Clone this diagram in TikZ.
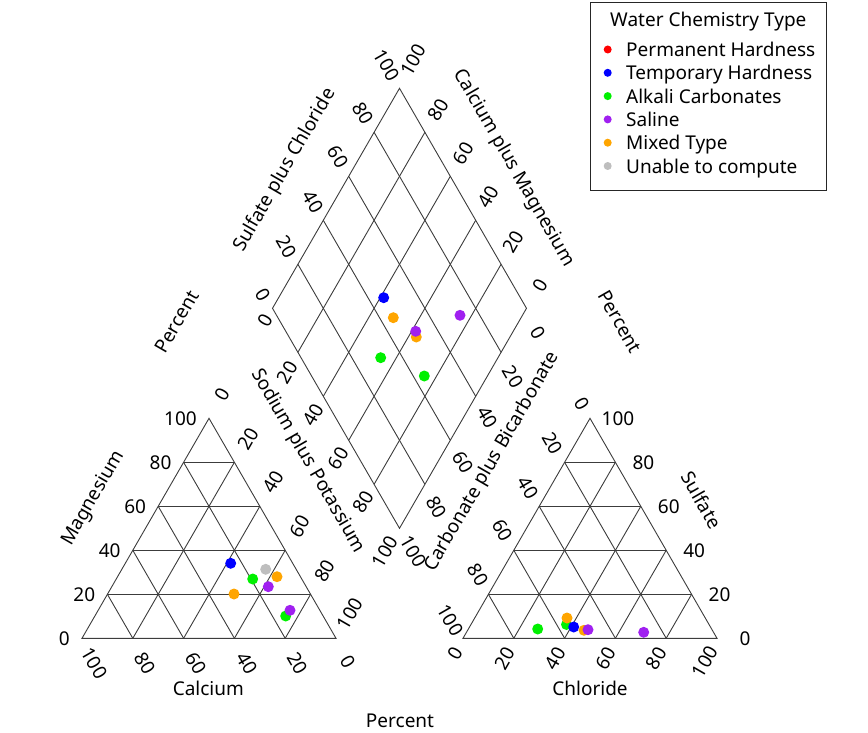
\documentclass[tikz,border=0pt]{standalone}
\usepackage{fontspec}
\setmainfont{Noto Sans}
\usetikzlibrary{calc}
\definecolor{cred}{RGB}{255,0,0}
\definecolor{cblue}{RGB}{0,0,255}
\definecolor{cgreen}{RGB}{0,240,0}
\definecolor{cpurple}{RGB}{160,32,240}
\definecolor{corange}{RGB}{255,165,0}
\definecolor{cgray}{RGB}{190,190,190}
\definecolor{gridc}{RGB}{60,60,60}
\begin{document}
\begin{tikzpicture}[x=1pt,y=-1pt,
  grid/.style={draw=gridc, line width=0.9pt},
  tick/.style={inner sep=0pt, font=\fontsize{19}{22}\selectfont},
  lab/.style={inner sep=0pt, font=\fontsize{19}{22}\selectfont},
  dot/.style={fill=#1}]
\useasboundingbox (0,0) rectangle (868,733);
% vertices
\coordinate (A) at (82,638.3);
\coordinate (B) at (336,638.3);
\coordinate (C) at (209,418.3);
\coordinate (D) at (463,638.3);
\coordinate (E) at (717,638.3);
\coordinate (F) at (590,418.3);
\coordinate (Lc) at (272.5,308.3);
\coordinate (T) at (399.5,88.3);
\coordinate (Rc) at (526.5,308.3);
\coordinate (Bm) at (399.5,528.3);
% triangles
\draw[grid] (A) -- (B) -- (C) -- cycle;
\draw[grid] (D) -- (E) -- (F) -- cycle;
\draw[grid] (Lc) -- (T) -- (Rc) -- (Bm) -- cycle;
\foreach \f in {0.2,0.4,0.6,0.8}{
  \pgfmathsetmacro\g{1-\f}
  \draw[grid] ($(A)!\f!(C)$) -- ($(B)!\f!(C)$);
  \draw[grid] ($(A)!\f!(B)$) -- ($(B)!\g!(C)$);
  \draw[grid] ($(A)!\f!(B)$) -- ($(A)!\f!(C)$);
  \draw[grid] ($(D)!\f!(F)$) -- ($(E)!\f!(F)$);
  \draw[grid] ($(D)!\f!(E)$) -- ($(E)!\g!(F)$);
  \draw[grid] ($(D)!\f!(E)$) -- ($(D)!\f!(F)$);
  \draw[grid] ($(Lc)!\f!(Bm)$) -- ($(T)!\f!(Rc)$);
  \draw[grid] ($(Lc)!\f!(T)$) -- ($(Bm)!\f!(Rc)$);
}
% left triangle ticks
\foreach \t/\x/\y in {0/70/638.3,20/95.4/594.3,40/120.8/550.3,60/146.2/506.3,80/171.6/462.3,100/197/418.3}
  \node[tick,anchor=east] (mg\t) at (\x,\y) {\t};
\foreach \t/\x/\y in {100/94.5/663.3,80/145.3/663.3,60/196.1/663.3,40/246.9/663.3,20/297.7/663.3,0/348.5/662}
  \node[tick,rotate=-60] (ca\t) at (\x,\y) {\t};
\foreach \t/\x/\y in {0/222/394.3,20/248.4/439,40/273.5/482,60/299.6/526.5,80/325/571,100/350/613.8}
  \node[tick,rotate=60] (na\t) at (\x,\y) {\t};
% right triangle ticks
\foreach \t/\x/\y in {0/745/638.3,20/719.6/594.3,40/694.2/550.3,60/668.8/506.3,80/643.4/462.3,100/618/418.3}
  \node[tick] (so\t) at (\x,\y) {\t};
\foreach \t/\x/\y in {0/455.5/653.5,20/505/658.5,40/555.5/658.5,60/606/658.5,80/656.5/658.5,100/705/661.5}
  \node[tick,rotate=60] (cl\t) at (\x,\y) {\t};
\foreach \t/\x/\y in {0/582/404,20/552.5/443.5,40/528/488,60/502.5/530.5,80/478/575,100/450.5/620}
  \node[tick,rotate=-60] (hc\t) at (\x,\y) {\t};
% diamond ticks
\foreach \t/\x/\y in {0/263.3/295,20/286.7/246.7,40/313.3/201.7,60/338.3/156.7,80/363.3/113.3,100/386.7/65}
  \node[tick,rotate=-60] (ul\t) at (\x,\y) {\t};
\foreach \t/\x/\y in {100/413.3/60,80/438.3/110,60/463.3/153.3,40/488.3/196.7,20/513.3/241.7,0/540/285}
  \node[tick,rotate=60] (ur\t) at (\x,\y) {\t};
\foreach \t/\x/\y in {0/265/320,20/287.5/372.5,40/313.3/415,60/338.3/458.3,80/363.3/501.7,100/385/551.7}
  \node[tick,rotate=60] (ll\t) at (\x,\y) {\t};
\foreach \t/\x/\y in {0/538.3/333.3,20/513.3/376.7,40/487.5/417.5,60/463.3/462.5,80/436.7/507.5,100/413.3/551.7}
  \node[tick,rotate=-60] (lr\t) at (\x,\y) {\t};
% axis titles
\node[lab] (tca) at (208.3,688.3) {Calcium};
\node[lab,rotate=60] (tmg) at (93.5,498.5) {Magnesium};
\node[lab,rotate=-60] (tna) at (308,461) {Sodium plus Potassium};
\node[lab] (tcl) at (590,688.3) {Chloride};
\node[lab,rotate=-60] (tso) at (701.7,500) {Sulfate};
\node[lab,rotate=60] (thc) at (492.5,461.7) {Carbonate plus Bicarbonate};
\node[lab,rotate=60] (tsc) at (285,170) {Sulfate plus Chloride};
\node[lab,rotate=-60] (tcm) at (514,168) {Calcium plus Magnesium};
\node[lab,rotate=60] (p1) at (176.7,321.7) {Percent};
\node[lab,rotate=-60] (p2) at (620,321.7) {Percent};
\node[lab] (p3) at (400,721) {Percent};
% data points: left triangle
\fill[cblue] (230.7,563.3) circle (5.5pt);
\fill[cgray] (265.7,569.3) circle (5.5pt);
\fill[cgreen] (252.7,579) circle (5.5pt);
\fill[corange] (277,576.7) circle (5.5pt);
\fill[cpurple] (268.3,586.7) circle (5.5pt);
\fill[corange] (234,594) circle (5.5pt);
\fill[cgreen] (285.7,616) circle (5.5pt);
\fill[cpurple] (290,610.3) circle (5.5pt);
% right triangle
\fill[cgreen] (566.5,624.5) circle (5.5pt);
\fill[corange] (567,618) circle (5.5pt);
\fill[cblue] (573.7,627) circle (5.5pt);
\fill[corange] (584,630.3) circle (5.5pt);
\fill[cpurple] (588,629.7) circle (5.5pt);
\fill[cgreen] (537.7,629) circle (5.5pt);
\fill[cpurple] (643.7,632.3) circle (5.5pt);
% diamond
\fill[cblue] (383.7,297.7) circle (5.5pt);
\fill[corange] (393.3,317.7) circle (5.5pt);
\fill[cpurple] (460,315.3) circle (5.5pt);
\fill[corange] (416.3,337) circle (5.5pt);
\fill[cpurple] (415.7,331.3) circle (5.5pt);
\fill[cgreen] (380.7,357.7) circle (5.5pt);
\fill[cgreen] (424.3,376) circle (5.5pt);
% legend
\draw[line width=0.9pt,draw=black!85] (590,2.7) rectangle (826.7,190.7);
\node[lab,anchor=base] (lt) at (708.3,26.7) {Water Chemistry Type};
\foreach \c/\t [count=\i from 0] in {cred/Permanent Hardness,cblue/Temporary Hardness,cgreen/Alkali Carbonates,cpurple/Saline,corange/Mixed Type,cgray/Unable to compute}{
  \fill[\c] (607.7,49.5+23.3*\i) circle (4pt);
  \node[lab,anchor=base west] (le\i) at (626,56.7+23.3*\i) {\t};
}
\end{tikzpicture}
\end{document}
